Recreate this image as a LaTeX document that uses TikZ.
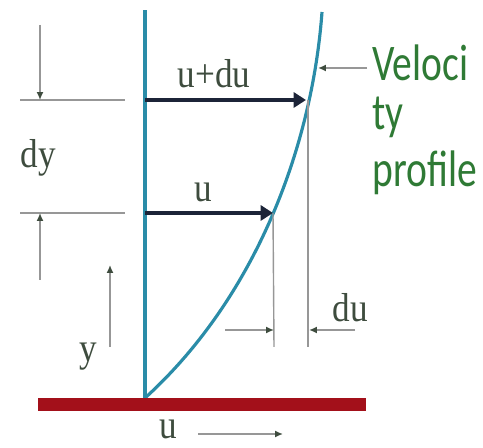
\documentclass[tikz,border=0pt]{standalone}
\usepackage{fontspec}
\usepackage{graphicx}
\setmainfont{Liberation Serif}
\newfontfamily\profilefont{Carlito}
\usetikzlibrary{arrows.meta, positioning, calc}

\definecolor{wallblue}{HTML}{2A8CA8}
\definecolor{platered}{HTML}{A3101A}
\definecolor{arrownavy}{HTML}{1C2438}
\definecolor{dimgray}{HTML}{979797}
\definecolor{labelgreen}{HTML}{2F7A35}
\definecolor{labeldark}{HTML}{3E4C3E}

\newcommand{\tallbox}[2]{\scalebox{1}[#1]{#2}}

\begin{document}
\begin{tikzpicture}[
    x=0.02cm, y=0.02cm,
    wall/.style={wallblue, line width=1.8pt},
    plate/.style={platered, line width=7.4pt},
    vel/.style={arrownavy, line width=2.6pt, -{Triangle[length=7pt, width=8.5pt]}},
    dimline/.style={dimgray, line width=0.8pt},
    dimarr/.style={dimgray, line width=0.9pt,
                   -{Latex[length=4.5pt, width=4pt, color=labeldark]}},
    lbl/.style={font=\fontsize{20}{24}\selectfont, text=labeldark,
                inner sep=0pt, anchor=base},
    prof/.style={font=\profilefont\fontsize{22.5}{27}\selectfont, text=labelgreen,
                 inner sep=0pt, anchor=base west},
]
    \useasboundingbox (0,0) rectangle (483,448);

    %==================== wall, plate and profile ====================
    \coordinate (wallbot) at (145,50);
    \coordinate (walltop) at (145,438);
    \coordinate (proftop) at (322,436);
    \coordinate (plateL) at (38,43);
    \coordinate (plateR) at (366,43);

    \draw[wall] (wallbot) -- (walltop);
    \draw[wall] (wallbot) .. controls (255,150) and (312,300) .. (proftop);
    \draw[plate] (plateL) -- (plateR);

    %==================== velocity arrows ====================
    \coordinate (ubase) at (145,235);
    \coordinate (utip) at (273,235);
    \coordinate (dubase) at (145,348);
    \coordinate (dutip) at (306,348);

    \draw[vel] (ubase) -- (utip);
    \draw[vel] (dubase) -- (dutip);
    \node[lbl] (ulbl) at (203,246) {\tallbox{1.15}{u}};
    \node[lbl] (dulbl) at (214,360) {\tallbox{1.15}{u+du}};

    %==================== dy dimension ====================
    \coordinate (refL1) at (20,348);
    \coordinate (refR1) at (125,348);
    \coordinate (refL2) at (20,235);
    \coordinate (refR2) at (125,235);
    \draw[dimline] (refL1) -- (refR1);
    \draw[dimline] (refL2) -- (refR2);

    \coordinate (dytop) at (40,423);
    \coordinate (dybot) at (40,168);
    \draw[dimarr] (dytop) -- (dytop |- refL1);
    \draw[dimarr] (dybot) -- (dybot |- refL2);
    \node[lbl] (dylbl) at (38,280) {\tallbox{1.15}{dy}};

    %==================== y axis ====================
    \coordinate (ystart) at (110,101);
    \coordinate (yend) at (110,183);
    \draw[dimarr] (ystart) -- (yend);
    \node[lbl] (ylbl) at (88,86) {\tallbox{1.15}{y}};

    %==================== du dimension ====================
    \coordinate (dulow) at (274,101);
    \coordinate (duhigh) at (308,101);
    \draw[dimline] (utip) -- (dulow);
    \draw[dimline] (duhigh |- dutip) -- (duhigh);

    \coordinate (duarrL) at (225,118);
    \coordinate (duarrR) at (355,118);
    \draw[dimarr] (duarrL) -- (duarrL -| dulow);
    \draw[dimarr] (duarrR) -- ($(duarrR -| duhigh)+(1,0)$);
    \node[lbl] (dulbl2) at (350,126) {\tallbox{1.15}{du}};

    %==================== plate velocity ====================
    \coordinate (pstart) at (198,14);
    \coordinate (pend) at (283,14);
    \draw[dimarr] (pstart) -- (pend);
    \node[lbl] (plbl) at (168,9) {\tallbox{1.15}{u}};

    %==================== profile label ====================
    \node[prof] (vel1) at (372,367) {\tallbox{1.3}{Veloci}};
    \node[prof] (vel2) at (372,318) {\tallbox{1.3}{ty}};
    \node[prof] (vel3) at (372,261) {\tallbox{1.3}{profile}};
    \coordinate (leadtip) at (318,380);
    \draw[dimarr] ($(vel1.west |- leadtip)+(-5,0)$) -- (leadtip);

\end{tikzpicture}
\end{document}
